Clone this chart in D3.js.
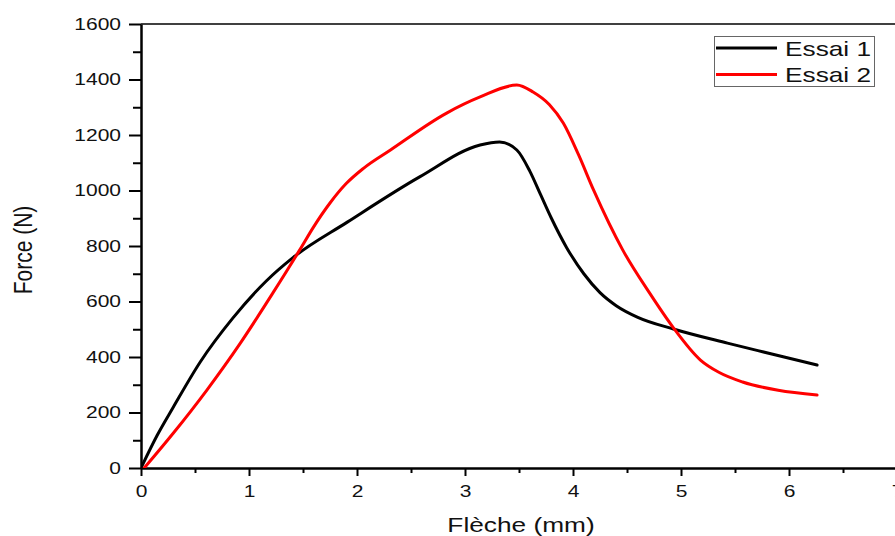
<!DOCTYPE html>
<html>
<head>
<meta charset="utf-8">
<script src="https://cdn.jsdelivr.net/npm/d3@7"></script>
<style>
  body { margin: 0; background: #fff; }
  svg { display: block; font-family: "Liberation Sans", Arial, sans-serif; }
</style>
</head>
<body>
<svg id="chart" width="895" height="536"></svg>
<script>
// data (Flèche in mm, Force in N)
const essai1 = [
  [0, 0], [0.15, 118], [0.3, 220], [0.55, 383], [0.85, 540], [1.16, 674], [1.41, 759],
  [1.91, 886], [2.58, 1049], [3.14, 1164], [3.32, 1175], [3.48, 1146], [3.6, 1070],
  [3.7, 985], [3.8, 900], [3.94, 795], [4.1, 700], [4.25, 632], [4.4, 585],
  [4.6, 543], [4.93, 501], [5.43, 450], [5.85, 410], [6.26, 371]
]
const essai2 = [
  [0.03, 0], [0.3, 126], [0.61, 281], [0.92, 450], [1.22, 630], [1.47, 786],
  [1.6, 870], [1.75, 955], [1.9, 1025], [2.06, 1080], [2.31, 1146], [2.83, 1279],
  [3.14, 1337], [3.48, 1380], [3.63, 1355], [3.78, 1310], [3.91, 1243], [4.05, 1130],
  [4.19, 1002], [4.46, 786], [4.71, 630], [4.93, 505], [5.18, 389], [5.35, 345],
  [5.57, 310], [5.9, 280], [6.26, 263]
]
const xTicks = [0, 1, 2, 3, 4, 5, 6, 7]
const xMinor = [0.5, 1.5, 2.5, 3.5, 4.5, 5.5, 6.5]
const yTicks = [0, 200, 400, 600, 800, 1000, 1200, 1400, 1600]
const yMinor = [100, 300, 500, 700, 900, 1100, 1300, 1500]
const seriesNames = ["Essai 1", "Essai 2"]
const seriesColors = ["#000000", "#ff0000"]

const svg = d3.select("#chart")
const STRETCH = "scale(1.25,1)"

// scales
const x = d3.scaleLinear().domain([0, 7]).range([141, 897])
const y = d3.scaleLinear().domain([0, 1600]).range([468, 24])

// clip for curves
svg.append("clipPath").attr("id", "plot")
  .append("rect")
  .attr("x", x(0)).attr("y", y(1600))
  .attr("width", x(7) - x(0)).attr("height", y(0) - y(1600))

// frame top line
svg.append("line")
  .attr("x1", x(0)).attr("x2", x(7))
  .attr("y1", y(1600)).attr("y2", y(1600))
  .attr("stroke", "#000").attr("stroke-width", 1.6)

// minor ticks
svg.append("g")
  .attr("transform", `translate(${x(0)},0)`)
  .call(d3.axisLeft(y).tickValues(yMinor).tickSize(8).tickFormat(""))
  .call(g => g.select(".domain").remove())
  .selectAll("line").attr("stroke-width", 2)
svg.append("g")
  .attr("transform", `translate(0,${y(0)})`)
  .call(d3.axisBottom(x).tickValues(xMinor).tickSize(5).tickFormat(""))
  .call(g => g.select(".domain").remove())
  .selectAll("line").attr("stroke-width", 2)

// main axes
const yAxis = svg.append("g")
  .attr("transform", `translate(${x(0)},0)`)
  .call(d3.axisLeft(y).tickValues(yTicks).tickFormat(d3.format("d"))
    .tickSize(12).tickSizeOuter(0).tickPadding(4))
const xAxis = svg.append("g")
  .attr("transform", `translate(0,${y(0)})`)
  .call(d3.axisBottom(x).tickValues(xTicks).tickFormat(d3.format("d"))
    .tickSize(8).tickSizeOuter(0).tickPadding(9))

;[xAxis, yAxis].forEach(a => {
  a.select(".domain").attr("stroke-width", 2.5)
  a.selectAll(".tick line").attr("stroke-width", 2)
  a.selectAll(".tick text")
    .attr("font-size", 16.8)
    .attr("fill", "#111")
    .attr("font-family", "Liberation Sans, Arial, sans-serif")
    .attr("transform", STRETCH)
})

// curves
const line = d3.line()
  .x(d => x(d[0]))
  .y(d => y(d[1]))
  .curve(d3.curveMonotoneX)

;[essai1, essai2].forEach((s, i) => {
  svg.append("path")
    .datum(s)
    .attr("clip-path", "url(#plot)")
    .attr("fill", "none")
    .attr("stroke", seriesColors[i])
    .attr("stroke-width", 3)
    .attr("stroke-linejoin", "round")
    .attr("stroke-linecap", "round")
    .attr("d", line)
})

// axis titles
svg.append("text")
  .attr("transform", `translate(521,532) ${STRETCH}`)
  .attr("text-anchor", "middle")
  .attr("font-size", 21)
  .attr("fill", "#111")
  .text("Flèche (mm)")
svg.append("text")
  .attr("transform", `translate(32,250) ${STRETCH} rotate(-90)`)
  .attr("text-anchor", "middle")
  .attr("font-size", 21)
  .attr("fill", "#111")
  .text("Force (N)")

// legend
const legend = svg.append("g")
legend.append("rect")
  .attr("x", 714.5).attr("y", 36.5)
  .attr("width", 160).attr("height", 50)
  .attr("fill", "#fff").attr("stroke", "#666").attr("stroke-width", 1)
seriesNames.forEach((name, i) => {
  const ly = 48 + i * 26.5
  legend.append("line")
    .attr("x1", 716).attr("x2", 777)
    .attr("y1", ly).attr("y2", ly)
    .attr("stroke", seriesColors[i]).attr("stroke-width", 3)
  legend.append("text")
    .attr("transform", `translate(785,${ly + 7.5}) ${STRETCH}`)
    .attr("font-size", 21)
    .attr("fill", "#111")
    .text(name)
})
</script>
</body>
</html>
